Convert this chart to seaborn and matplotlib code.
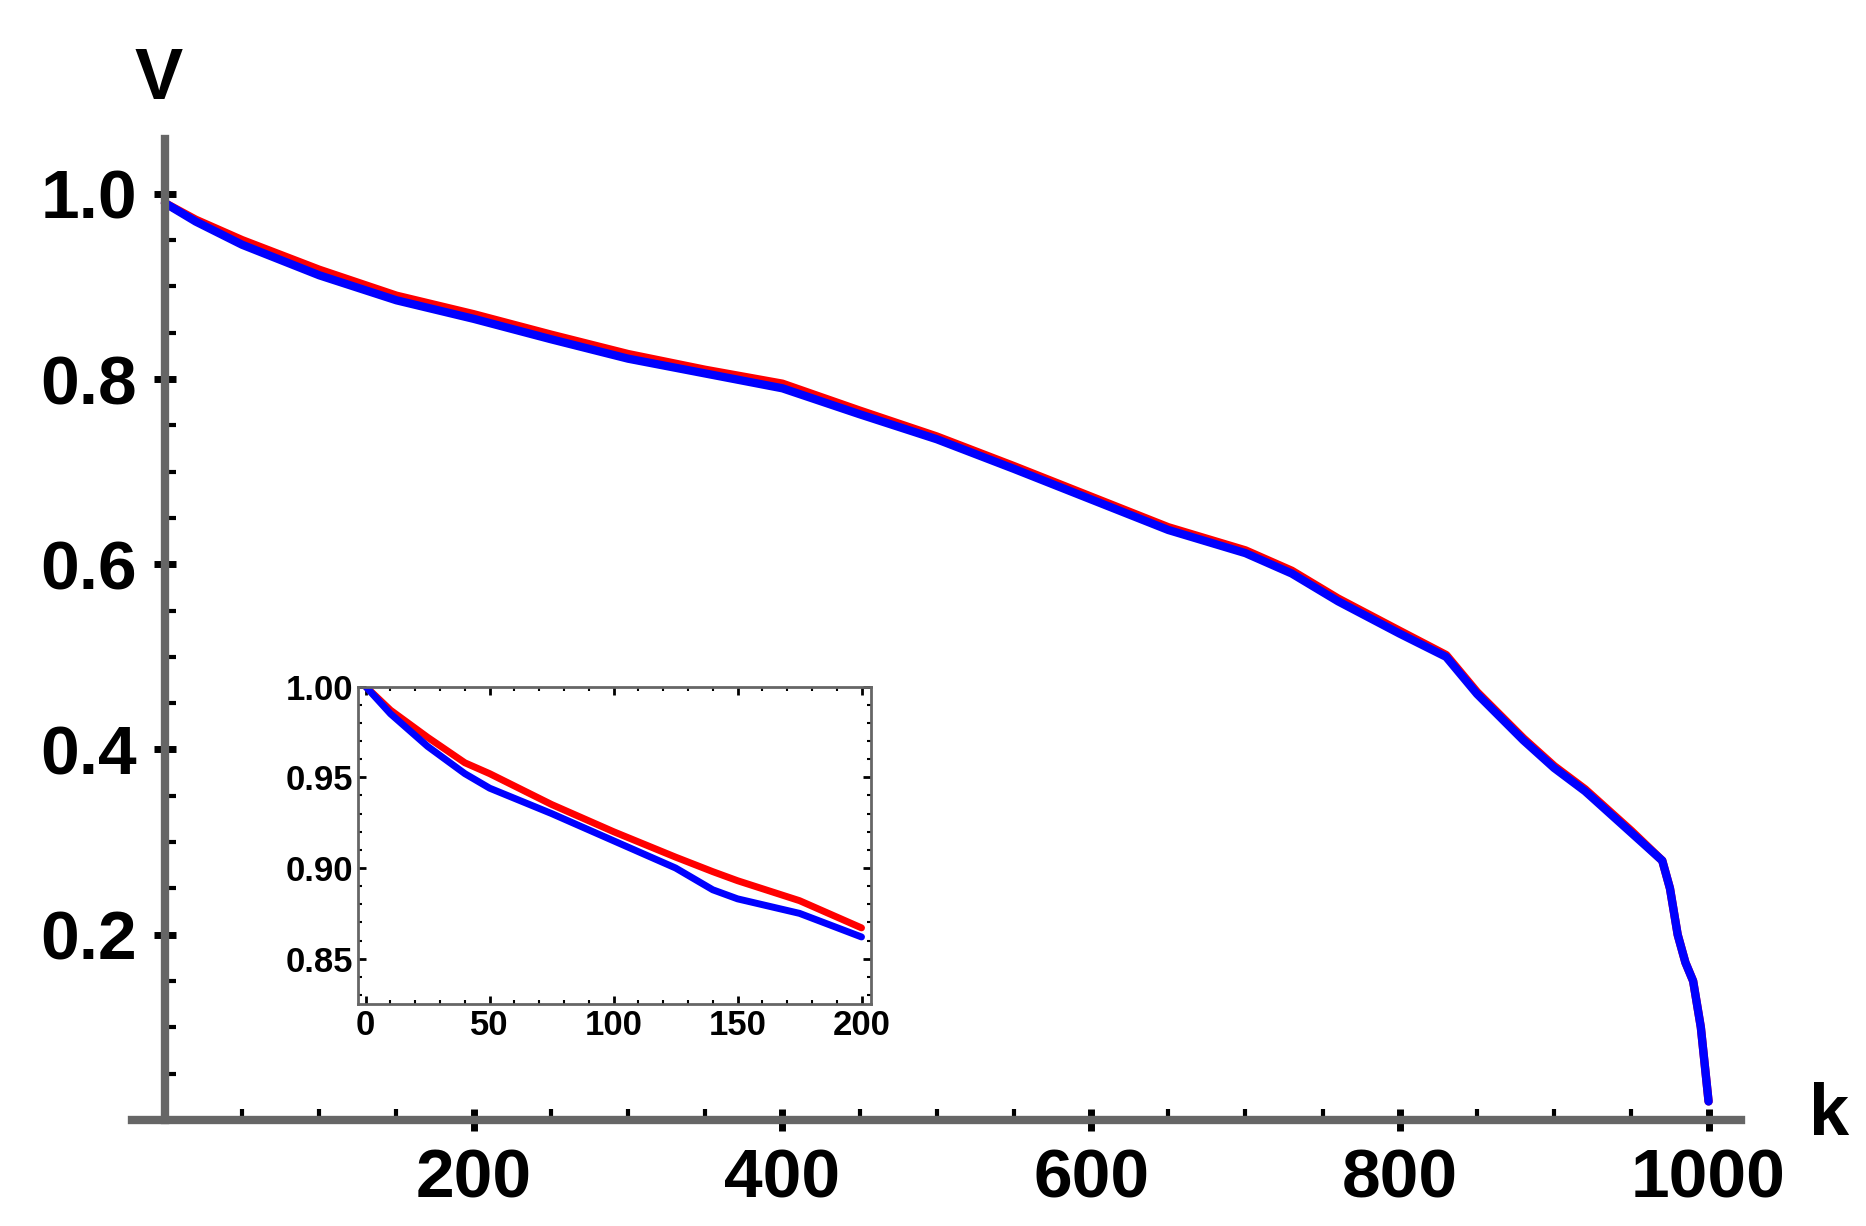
import matplotlib
matplotlib.use('Agg')
import matplotlib.pyplot as plt
import seaborn as sns
import pandas as pd

# main curve
k_main = [0, 20, 50, 100, 150, 200, 250, 300, 350, 400, 450, 500, 550, 600, 650, 700,
          730, 760, 800, 830, 850, 880, 900, 920, 950, 970, 975, 980, 985, 990, 995, 1000]
v_blue = [0.99, 0.97, 0.945, 0.912, 0.885, 0.865, 0.843, 0.822, 0.806, 0.79, 0.762, 0.735,
          0.703, 0.67, 0.637, 0.612, 0.59, 0.56, 0.525, 0.5, 0.46, 0.41, 0.38, 0.355, 0.31,
          0.28, 0.25, 0.2, 0.17, 0.15, 0.1, 0.02]
v_red = [0.99, 0.972, 0.95, 0.918, 0.89, 0.87, 0.848, 0.827, 0.81, 0.795, 0.766, 0.738,
         0.706, 0.673, 0.64, 0.615, 0.593, 0.563, 0.528, 0.502, 0.462, 0.412, 0.382, 0.357,
         0.312, 0.28, 0.25, 0.2, 0.17, 0.15, 0.1, 0.02]

# inset (first 200 steps)
k_in = [0, 10, 25, 40, 50, 75, 100, 125, 140, 150, 175, 200]
in_blue = [1.0, 0.985, 0.967, 0.952, 0.944, 0.93, 0.915, 0.9, 0.888, 0.883, 0.875, 0.862]
in_red = [1.0, 0.987, 0.972, 0.958, 0.952, 0.935, 0.92, 0.906, 0.898, 0.893, 0.882, 0.867]

sns.set_style('ticks')
plt.rcParams['font.family'] = ['Liberation Sans', 'DejaVu Sans']
plt.rcParams['text.color'] = 'black'
plt.rcParams['xtick.color'] = 'black'
plt.rcParams['ytick.color'] = 'black'
fig = plt.figure(figsize=(18.66, 12.26), dpi=100)
ax = fig.add_axes([0.071, 0.0865, 0.862, 0.80])
gray = '#666666'

df = pd.DataFrame({'k': k_main, 'red': v_red, 'blue': v_blue})
sns.lineplot(data=df, x='k', y='red', ax=ax, color='red', lw=6)
sns.lineplot(data=df, x='k', y='blue', ax=ax, color='blue', lw=6)
ax.set_xlim(-21, 1021)
ax.set_ylim(0, 1.059)
for s in ['top', 'right']:
    ax.spines[s].set_visible(False)
ax.spines['left'].set_position(('data', 0))
ax.spines['bottom'].set_position(('data', 0))
for s in ['left', 'bottom']:
    ax.spines[s].set_color(gray)
    ax.spines[s].set_linewidth(6)
ax.set_xticks([200, 400, 600, 800, 1000])
ax.set_xticks(range(50, 1001, 50), minor=True)
ax.set_yticks([0.2, 0.4, 0.6, 0.8, 1.0])
ax.set_yticks([i / 20 for i in range(1, 21)], minor=True)
ax.tick_params(axis='both', which='major', direction='inout', length=16, width=5,
               color='black', labelsize=50, pad=12, left=True, bottom=True)
ax.tick_params(axis='both', which='minor', direction='in', length=8, width=3,
               color='black', left=True, bottom=True)
for lab in ax.get_xticklabels() + ax.get_yticklabels():
    lab.set_fontweight('bold')
ax.set_xlabel('')
ax.set_ylabel('')
fig.text(0.085, 0.935, 'V', fontsize=52, fontweight='bold', ha='center', va='center')
fig.text(0.98, 0.09, 'k', fontsize=52, fontweight='bold', ha='center', va='center')

ins = fig.add_axes([0.192, 0.181, 0.275, 0.259])
dfi = pd.DataFrame({'k': k_in, 'red': in_red, 'blue': in_blue})
sns.lineplot(data=dfi, x='k', y='red', ax=ins, color='red', lw=5)
sns.lineplot(data=dfi, x='k', y='blue', ax=ins, color='blue', lw=5)
ins.set_xlim(-3, 204)
ins.set_ylim(0.825, 1.0)
ins.set_xticks([0, 50, 100, 150, 200])
ins.set_yticks([0.85, 0.90, 0.95, 1.00])
ins.set_yticklabels(['0.85', '0.90', '0.95', '1.00'])
ins.set_xticks(range(10, 201, 10), minor=True)
ins.set_yticks([0.83 + 0.01 * i for i in range(18)], minor=True)
for s in ins.spines.values():
    s.set_color(gray)
    s.set_linewidth(2)
ins.tick_params(axis='both', which='major', direction='in', length=6, width=2,
                labelsize=25, top=True, right=True, left=True, bottom=True)
ins.tick_params(axis='both', which='minor', direction='in', length=3, width=1.5,
                top=True, right=True, left=True, bottom=True)
for lab in ins.get_xticklabels() + ins.get_yticklabels():
    lab.set_fontweight('bold')
ins.set_xlabel('')
ins.set_ylabel('')

fig.savefig('out.png', dpi=100)
